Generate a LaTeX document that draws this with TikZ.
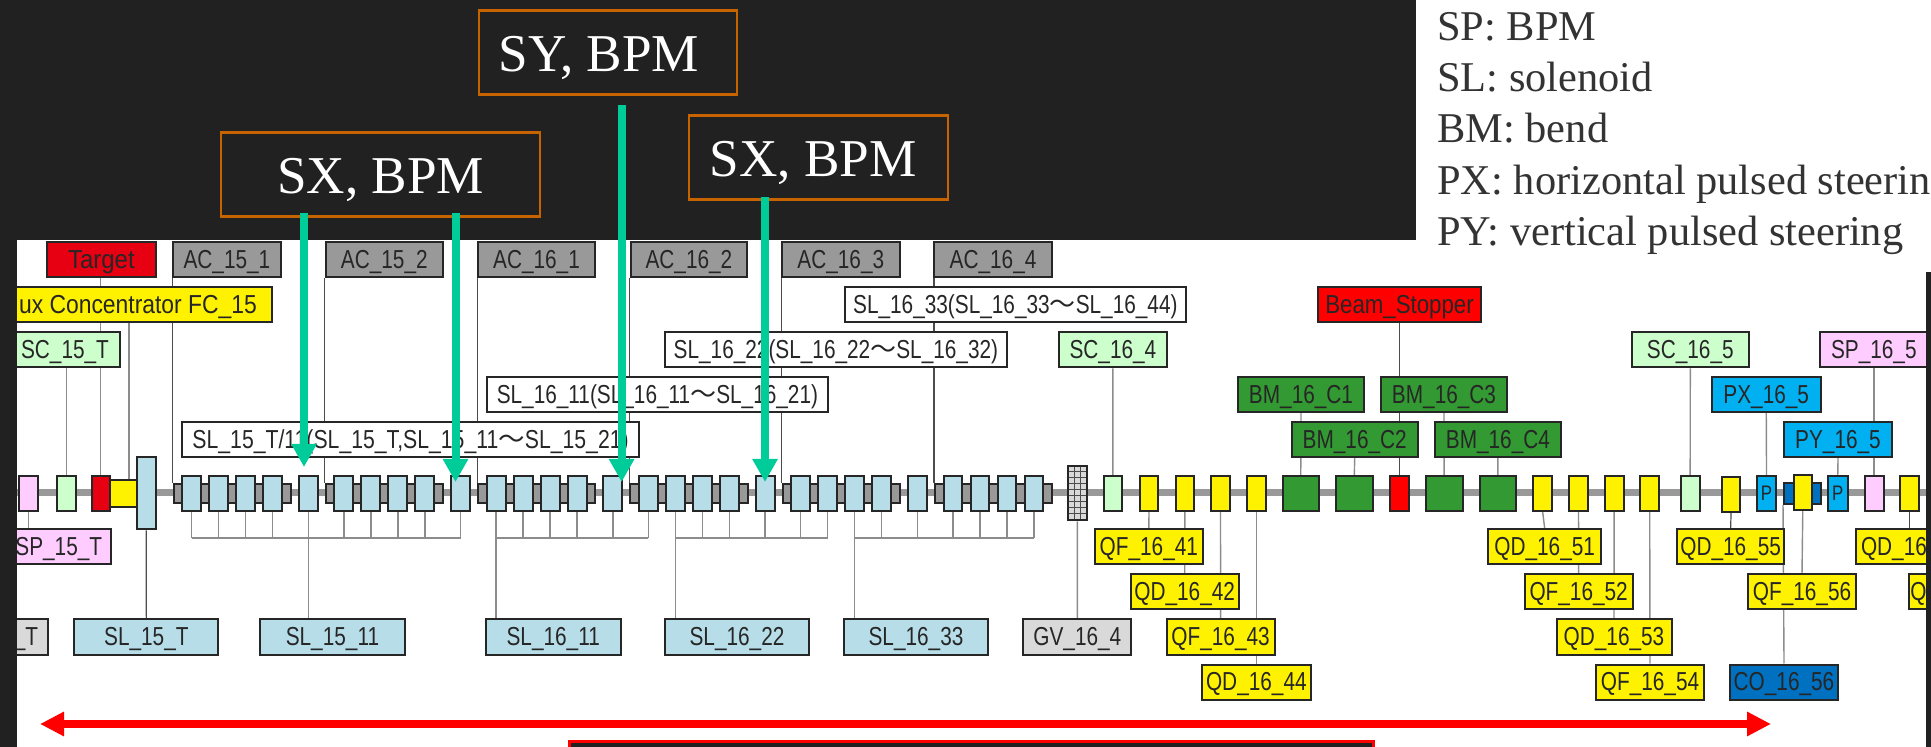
\documentclass[tikz,border=0pt]{standalone}
\usepackage{fontspec}
\usepackage{xcolor}
\usepackage{tikz}
\usetikzlibrary{arrows.meta,backgrounds,calc,patterns,positioning}
\setmainfont{Liberation Serif}
\setsansfont[FakeStretch=0.8]{Liberation Sans}
\newfontfamily\cjk{Noto Sans CJK JP}
\definecolor{darkbg}{HTML}{212121}
\definecolor{bpmorange}{HTML}{C86400}
\definecolor{pointer}{HTML}{00CC99}
\definecolor{slblue}{HTML}{B7DDE8}
\definecolor{scgreen}{HTML}{CCFFCC}
\definecolor{sppink}{HTML}{FFCCFF}
\definecolor{bmgreen}{HTML}{339933}
\definecolor{pulseblue}{HTML}{00B0F0}
\definecolor{coblue}{HTML}{0070C0}
\definecolor{targetred}{HTML}{E60012}
\definecolor{acgray}{HTML}{999999}
\definecolor{gvgray}{HTML}{D9D9D9}
\pgfdeclarelayer{front}
\pgfsetlayers{background,main,front}
\tikzset{
  tagbox/.style={draw=black!85,line width=1pt,inner sep=0pt,minimum height=17.5pt,
    text height=8.8pt,text depth=0pt,text=black!85,
    font=\sffamily\fontsize{13}{15}\selectfont},
  elembox/.style={draw=black!85,line width=1pt,inner sep=0pt,minimum height=17.5pt,
    text height=7pt,text depth=0pt,text=black!85,
    font=\sffamily\fontsize{10.5}{12}\selectfont},
  bpmbox/.style={draw=bpmorange,line width=1.2pt,text=white,inner sep=0pt,minimum height=42pt,
    text height=19.5pt,text depth=0pt,font=\fontsize{26.6}{30}\selectfont},
  legendline/.style={anchor=base west,inner sep=0pt,text=black!80,font=\fontsize{21.2}{25}\selectfont},
  wire/.style={draw=black!45,line width=.7pt},
  darkwire/.style={draw=black!70,line width=.6pt},
  beampipe/.style={draw=acgray,line width=3.5pt},
  pointerarrow/.style={draw=pointer,line width=4pt,-{Triangle[length=11.5pt,width=12pt]}},
  spanarrow/.style={draw=red,line width=4pt,{Triangle[length=12pt,width=11.5pt]}-{Triangle[length=12pt,width=11.5pt]}}
}
% style, name, left, right, row centre, text
\newcommand{\beamtag}[6]{\node[tagbox,#1,minimum width={(#4-#3)*0.5pt}] (#2) at ({(#3+#4)/2},#5) {#6};}
\newcommand{\beamelem}[5][]{\node[elembox,#2,minimum width={(#4-#3)*0.5pt}] (#1) at ({(#3+#4)/2},493.5) {#5};}
\newcommand{\wave}{{\cjk 〜}}
\begin{document}
\begin{tikzpicture}[x=0.5pt,y=-0.5pt]
  \useasboundingbox (0,0) rectangle (1931,747);
  \begin{scope}[on background layer]
    \fill[white] (0,0) rectangle (1931,747);
    \fill[darkbg] (0,0) rectangle (1416,240);
    \draw[beampipe] (17,493) -- (1926,493);
  \end{scope}

  \node[bpmbox,minimum width=129pt] (sybpm) at (608,52.5) {SY, BPM\hspace{9pt}\mbox{}};
  \node[bpmbox,minimum width=159.5pt] (sxbpma) at (380.5,174.5) {SX, BPM};
  \node[bpmbox,minimum width=129.5pt] (sxbpmb) at (818.5,157.5) {SX, BPM\hspace{5.5pt}\mbox{}};

  \node[legendline] (legsp) at (1437,41) {SP: BPM};
  \node[legendline] (legsl) at (1437,92) {SL: solenoid};
  \node[legendline] (legbm) at (1437,143) {BM: bend};
  \node[legendline] (legpx) at (1437,195) {PX: horizontal pulsed steerin};
  \node[legendline] (legpy) at (1437,246) {PY: vertical pulsed steering};

  \beamtag{fill=targetred}{target}{47.3}{155.5}{260}{\scalebox{1.15}[1]{Target}}
  \beamtag{fill=acgray}{ac151}{172.7}{281.2}{260}{AC\_15\_1}
  \beamtag{fill=acgray}{ac152}{325.7}{442.9}{260}{AC\_15\_2}
  \beamtag{fill=acgray}{ac161}{478}{595}{260}{AC\_16\_1}
  \beamtag{fill=acgray}{ac162}{630.6}{747.3}{260}{AC\_16\_2}
  \beamtag{fill=acgray}{ac163}{782}{899.6}{260}{AC\_16\_3}
  \beamtag{fill=acgray}{ac164}{934.3}{1051.8}{260}{AC\_16\_4}

  \beamtag{fill=yellow}{fluxtag}{4}{272}{305}{\scalebox{1.1}[1]{ux Concentrator FC\_15}}
  \beamtag{fill=white}{sl1633group}{845}{1185.7}{305}{SL\_16\_33(SL\_16\_33\wave SL\_16\_44)}
  \beamtag{fill=red}{stopper}{1318}{1481}{305}{\scalebox{1.07}[1]{Beam\_Stopper}}

  \beamtag{fill=scgreen}{sc15t}{10}{120}{350}{SC\_15\_T}
  \beamtag{fill=white}{sl1622group}{665.3}{1006.5}{350}{SL\_16\_22(SL\_16\_22\wave SL\_16\_32)}
  \beamtag{fill=scgreen}{sc164}{1058.8}{1167}{350}{SC\_16\_4}
  \beamtag{fill=scgreen}{sc165}{1631.6}{1749}{350}{SC\_16\_5}
  \beamtag{fill=sppink}{sp165}{1819.6}{1928}{350}{SP\_16\_5}

  \beamtag{fill=white}{sl1611group}{487}{827.8}{394.5}{SL\_16\_11(SL\_16\_11\wave SL\_16\_21)}
  \beamtag{fill=bmgreen}{bmc1}{1238}{1364}{394.5}{BM\_16\_C1}
  \beamtag{fill=bmgreen}{bmc3}{1381}{1507}{394.5}{BM\_16\_C3}
  \beamtag{fill=pulseblue}{px165}{1712}{1820.5}{394.5}{PX\_16\_5}

  \beamtag{fill=white}{sl15group}{182.4}{638.8}{439.5}{\scalebox{1.02}[1]{SL\_15\_T/11(SL\_15\_T,SL\_15\_11\wave SL\_15\_21)}}
  \beamtag{fill=bmgreen}{bmc2}{1291.6}{1417.8}{439.5}{BM\_16\_C2}
  \beamtag{fill=bmgreen}{bmc4}{1434.8}{1561}{439.5}{BM\_16\_C4}
  \beamtag{fill=pulseblue}{py165}{1784}{1892}{439.5}{PY\_16\_5}

  \beamtag{fill=sppink}{sp15t}{7}{110.6}{547}{SP\_15\_T}
  \beamtag{fill=yellow}{qf1641}{1094.7}{1202.9}{547}{QF\_16\_41}
  \beamtag{fill=yellow}{qd1651}{1488.4}{1601}{547}{QD\_16\_51}
  \beamtag{fill=yellow}{qd1655}{1676.8}{1784.4}{547}{QD\_16\_55}
  \beamtag{fill=yellow}{qd16cut}{1856}{1930}{547}{\makebox[32pt][l]{QD\_16}}

  \beamtag{fill=yellow}{qd1642}{1130.6}{1238.8}{592}{QD\_16\_42}
  \beamtag{fill=yellow}{qf1652}{1524.5}{1632.8}{592}{QF\_16\_52}
  \beamtag{fill=yellow}{qf1656}{1748}{1856}{592}{QF\_16\_56}
  \beamtag{fill=yellow}{qcut}{1909}{1930}{592}{\makebox[7pt][r]{Q}}

  \beamtag{fill=gvgray}{gv15t}{4}{48}{637}{\_T}
  \beamtag{fill=slblue}{sl15t}{74.3}{218.4}{637}{SL\_15\_T}
  \beamtag{fill=slblue}{sl1511}{260.4}{404.5}{637}{SL\_15\_11}
  \beamtag{fill=slblue}{sl1611}{485.7}{620.8}{637}{SL\_16\_11}
  \beamtag{fill=slblue}{sl1622}{665}{809}{637}{SL\_16\_22}
  \beamtag{fill=slblue}{sl1633}{844}{988}{637}{SL\_16\_33}
  \beamtag{fill=gvgray}{gv164}{1023.3}{1131.4}{637}{GV\_16\_4}
  \beamtag{fill=yellow}{qf1643}{1166.5}{1274.7}{637}{QF\_16\_43}
  \beamtag{fill=yellow}{qd1653}{1556.5}{1671.5}{637}{QD\_16\_53}

  \beamtag{fill=yellow}{qd1644}{1202}{1310.7}{682}{QD\_16\_44}
  \beamtag{fill=yellow}{qf1654}{1596}{1704}{682}{QF\_16\_54}
  \beamtag{fill=coblue}{co1656}{1730}{1838}{682}{CO\_16\_56}

  \beamelem[elsp15]{fill=sppink}{19}{37.5}{}
  \beamelem[elsc15]{fill=scgreen}{57}{76}{}
  \beamelem[eltarget]{fill=targetred}{91.5}{110}{}
  \beamelem[elflux]{fill=yellow,minimum height=13.5pt}{110}{137}{}
  \beamelem[elsl15t]{fill=slblue,minimum height=36pt}{137}{155.5}{}

  \coordinate (busline) at (0,538);
  \foreach \s in {0,...,5}{
    \node[elembox,fill=acgray,minimum width=58.6pt,minimum height=9.5pt] (sec-\s)
      at ({173.5+152.3*\s+58.6},493.5) {};
    \foreach \j/\dx in {0/18,1/45,2/72,3/99}{
      \node[elembox,fill=slblue,minimum width=9.4pt] (sol-\s-\j) at ({173.5+152.3*\s+\dx},493.5) {};
      \coordinate (bus-\s-\j) at (sol-\s-\j.south |- busline);
    }
  }
  \foreach \s in {0,...,4}{
    \node[elembox,fill=slblue,minimum width=9.4pt] (sol-\s-4) at ({173.5+152.3*\s+134.7},493.5) {};
    \coordinate (bus-\s-4) at (sol-\s-4.south |- busline);
  }

  \beamelem[elgv]{preaction={fill=gvgray},pattern=grid,pattern color=black!70,minimum height=27pt}{1067.8}{1087}{}
  \beamelem[elsc164]{fill=scgreen}{1103.7}{1122}{}
  \beamelem[elqa]{fill=yellow}{1139.6}{1158.4}{}
  \beamelem[elqb]{fill=yellow}{1175.5}{1194.3}{}
  \beamelem[elqc]{fill=yellow}{1211}{1230}{}
  \beamelem[elqd]{fill=yellow}{1247}{1265.7}{}
  \beamelem[elbma]{fill=bmgreen}{1282.5}{1319}{}
  \beamelem[elbmb]{fill=bmgreen}{1336}{1372.6}{}
  \beamelem[elstop]{fill=red}{1390}{1409}{}
  \beamelem[elbmc]{fill=bmgreen}{1425.7}{1462.6}{}
  \beamelem[elbmd]{fill=bmgreen}{1479.7}{1516}{}
  \beamelem[elqe]{fill=yellow}{1533}{1552.3}{}
  \beamelem[elqf]{fill=yellow}{1569}{1588}{}
  \beamelem[elqg]{fill=yellow}{1604.6}{1623.7}{}
  \beamelem[elqh]{fill=yellow}{1640}{1659.4}{}
  \beamelem[elsc165]{fill=scgreen}{1680.6}{1699.7}{}
  \beamelem[elqi]{fill=yellow,yshift=-0.5pt}{1721.7}{1740.4}{}
  \beamelem[elpx]{fill=pulseblue}{1757}{1776}{P}
  \beamelem[elco]{fill=coblue,minimum height=10.5pt}{1784}{1820.5}{}
  \beamelem[elqj]{fill=yellow,yshift=0.5pt}{1793.5}{1812}{}
  \beamelem[elpy]{fill=pulseblue}{1828}{1847.5}{P}
  \beamelem[elsp165]{fill=sppink}{1864.5}{1883.6}{}
  \beamelem[elqk]{fill=yellow}{1900}{1919}{}

  \begin{scope}[on background layer]
    \draw[wire] (elsp15.south) -- (elsp15.south |- sp15t.north);
    \draw[wire] (elsc15.north) -- (elsc15.north |- sc15t.south);
    \draw[wire] (eltarget.north) -- (eltarget.north |- target.south);
    \draw[wire] ([xshift=2.75pt]elflux.north) -- ([xshift=2.75pt]elflux.north |- fluxtag.south);
    \draw[darkwire] (elsl15t.south) -- (sl15t.north);
    \foreach \s/\tagname in {0/ac151,1/ac152,2/ac161,3/ac162,4/ac163,5/ac164}
      \draw[darkwire] (sec-\s.north west) -- (sec-\s.north west |- \tagname.south);
    \foreach \s in {0,...,5}
      \foreach \j in {0,1,2,3}
        \draw[wire] (sol-\s-\j.south) -- (bus-\s-\j);
    \foreach \s in {0,...,4}
      \draw[wire] (sol-\s-4.south) -- (bus-\s-4);
    \draw[wire] (bus-0-0) -- (bus-1-4);
    \draw[wire] (bus-2-0) -- (bus-3-0);
    \draw[wire] (bus-3-1) -- (bus-4-1);
    \draw[wire] (bus-4-2) -- (bus-5-3);
    \draw[wire] (bus-0-4) -- (bus-0-4 |- sl1511.north);
    \draw[wire] (bus-2-0) -- (bus-2-0 |- sl1611.north);
    \draw[wire] (bus-3-1) -- (bus-3-1 |- sl1622.north);
    \draw[wire] (bus-4-2) -- (bus-4-2 |- sl1633.north);
    \draw[wire] (elgv.south) -- (gv164.north);
    \draw[wire] (elsc164.north) -- (sc164.south);
    \draw[wire] (elqa.south) -- (qf1641.north);
    \draw[wire] (elqb.south) -- (qd1642.north);
    \draw[wire] (elqc.south) -- (qf1643.north);
    \draw[wire] (elqd.south) -- (qd1644.north);
    \draw[wire] (elbma.north) -- (bmc1.south);
    \draw[wire] (elbmb.north) -- (bmc2.south);
    \draw[darkwire] (elstop.north) -- (stopper.south);
    \draw[wire] (elbmc.north) -- (bmc3.south);
    \draw[wire] (elbmd.north) -- (bmc4.south);
    \draw[wire] (elqe.south) -- (qd1651.north);
    \draw[wire] (elqf.south) -- (qf1652.north);
    \draw[wire] (elqg.south) -- (qd1653.north);
    \draw[wire] (elqh.south) -- (qf1654.north);
    \draw[wire] (elsc165.north) -- (sc165.south);
    \draw[darkwire] (elqi.south) -- (qd1655.north);
    \draw[wire] (elpx.north) -- (px165.south);
    \draw[wire] (elco.south west) -- (co1656.north);
    \draw[wire] (elqj.south) -- (qf1656.north);
    \draw[wire] (elpy.north) -- (py165.south);
    \draw[wire] (elsp165.north) -- (elsp165.north |- sp165.south);
    \draw[darkwire] (elqk.south) -- (elqk.south |- qd16cut.north);
  \end{scope}

  \begin{pgfonlayer}{front}
    \fill[darkbg] (0,240) rectangle (17,747);
    \fill[darkbg] (1926,272) rectangle (1931,747);
    \path[fill=darkbg,draw=red,line width=1.5pt] (569,747) |- (1373,741.5) -- (1373,747);
    \coordinate (spanleft) at (40,724);
    \coordinate (spanright) at (1771,724);
    \draw[spanarrow] (spanleft) -- (spanright);
    \coordinate (tailsxa) at (304,213);
    \coordinate (tipsxa) at (304,467);
    \coordinate (tailsxb) at (455.5,213);
    \coordinate (tipsxb) at (455.5,482);
    \coordinate (tailsy) at (621.6,105);
    \coordinate (tipsy) at (621.6,482);
    \coordinate (tailsxc) at (765,197);
    \coordinate (tipsxc) at (765,482);
    \draw[pointerarrow] (tailsxa) -- (tipsxa);
    \draw[pointerarrow] (tailsxb) -- (tipsxb);
    \draw[pointerarrow] (tailsy) -- (tipsy);
    \draw[pointerarrow] (tailsxc) -- (tipsxc);
  \end{pgfonlayer}
\end{tikzpicture}
\end{document}
